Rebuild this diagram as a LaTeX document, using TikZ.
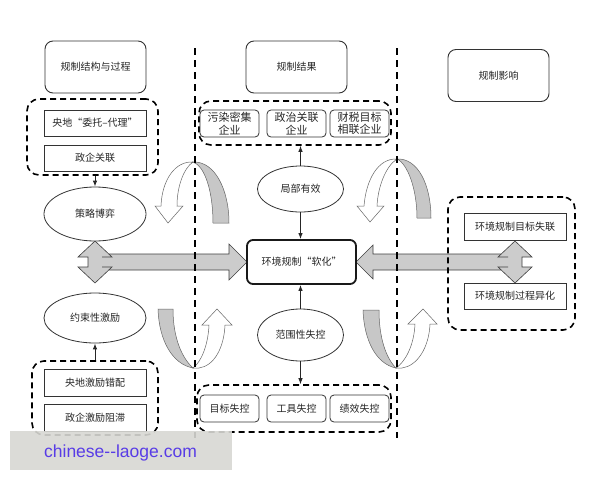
\documentclass[tikz,border=0pt]{standalone}
\usepackage{fontspec}
\setmainfont{Noto Sans CJK SC}
\newfontfamily\wmfont{Liberation Sans}
\usetikzlibrary{arrows.meta,shapes.geometric}
\definecolor{wmgray}{RGB}{216,216,211}
\definecolor{wmtext}{RGB}{88,60,230}
\begin{document}
\begin{tikzpicture}[x=1pt,y=-1pt,
  lbl/.style={font=\fontsize{10}{12}\selectfont, text=black!85},
  hbox/.style={draw=black!80, line width=0.9pt, rounded corners=8pt, minimum width=101pt, minimum height=52pt, lbl},
  pbox/.style={draw=black!80, line width=0.8pt, minimum width=102pt, minimum height=26pt, lbl},
  sbox/.style={draw=black!80, line width=0.8pt, rounded corners=4pt, minimum width=59pt, minimum height=27pt, align=center, inner sep=1pt, text=black!85, font=\fontsize{11}{12.5}\selectfont},
  ell/.style={draw=black!80, line width=0.8pt, ellipse, inner sep=0pt, lbl},
  grp/.style={draw=black, line width=1.6pt, dash pattern=on 6pt off 4pt, rounded corners=12pt},
  vline/.style={draw=black, line width=1.6pt, dash pattern=on 7pt off 5pt},
  fat/.style={fill=black!20, draw=black!75, line width=0.6pt, line join=miter},
  rib/.style={fill=black!22, draw=black!60, line width=0.5pt},
  wrib/.style={fill=white, draw=black!60, line width=0.5pt},
  arr/.style={-{Latex[length=6pt,width=4.5pt]}, line width=0.9pt, draw=black!85}]
\fill[white] (0,0) rectangle (600,480);
\useasboundingbox (0,0) rectangle (600,480);

% ribbons (curved arrows)
% top-left
\path[rib] (193,162) .. controls (215,161) and (229,190) .. (229,223) -- (213,223) .. controls (213,192) and (205,166) .. (193,162) -- cycle;
\path[wrib] (193,162) .. controls (175,161) and (162,180) .. (161,206) -- (155,206) -- (168,223) -- (183,206) -- (177,206) .. controls (177,186) and (184,168) .. (193,162) -- cycle;
% top-right
\path[rib] (397,159) .. controls (418,158) and (431,185) .. (431,218) -- (417,218) .. controls (417,190) and (408,164) .. (397,159) -- cycle;
\path[wrib] (397,159) .. controls (378,158) and (366,180) .. (364,206) -- (357,206) -- (370,222) -- (384,206) -- (377,206) .. controls (378,186) and (386,166) .. (397,159) -- cycle;
% bottom-left
\path[rib] (158,309) .. controls (159,340) and (172,364) .. (193,368) .. controls (182,358) and (173,338) .. (173,309) -- cycle;
\path[wrib] (193,368) -- (199,368) .. controls (214,366) and (224,348) .. (225,325) -- (232,325) -- (217,309) -- (202,325) -- (209,325) .. controls (208,346) and (201,362) .. (193,368) -- cycle;
% bottom-right
\path[rib] (363,310) .. controls (364,340) and (376,364) .. (396,368) .. controls (386,358) and (379,338) .. (379,310) -- cycle;
\path[wrib] (396,368) -- (402,368) .. controls (417,366) and (429,348) .. (430,324) -- (437,324) -- (423,309) -- (408,324) -- (415,324) .. controls (414,346) and (405,362) .. (396,368) -- cycle;

% fat compound arrows
\path[fat] (95,241) -- (108.8,254) -- (229,254) -- (229,244) -- (247,262) -- (229,280) -- (229,270) -- (108.8,270) -- (95,283) -- (78,267) -- (88,267) -- (88,257) -- (78,257) -- cycle;
\draw[black!75, line width=0.6pt] (108.8,254) -- (112,257) -- (102,257) (102,267) -- (112,267) -- (108.8,270);
\path[fat] (515,241) -- (532,257) -- (522,257) -- (522,267) -- (532,267) -- (515,283) -- (501.2,270) -- (373,270) -- (373,279) -- (356,262) -- (373,245) -- (373,254) -- (501.2,254) -- cycle;
\draw[black!75, line width=0.6pt] (501.2,254) -- (498,257) -- (508,257) (508,267) -- (498,267) -- (501.2,270);

% vertical dashed separators
\draw[vline] (195,48) -- (195,438);
\draw[vline] (397,48) -- (397,438);

% headers
\node[hbox] (t1) at (95.5,67) {规制结构与过程};
\node[hbox] (t2) at (296.5,67) {规制结果};
\node[hbox] (t3) at (498.5,75.5) {规制影响};

% left column
\node[grp, minimum width=131pt, minimum height=76pt] (g1) at (92.5,137) {};
\node[pbox] (b1) at (95,123) {央地“委托–代理”};
\node[pbox] (b2) at (95,158) {政企关联};
\node[ell, fill=white, minimum width=102pt, minimum height=54pt] (e1) at (95,214) {策略博弈};
\node[ell, fill=white, minimum width=102pt, minimum height=50pt] (e2) at (95,318) {约束性激励};
\node[grp, minimum width=126pt, minimum height=74pt] (g2) at (95,398) {};
\node[pbox, minimum height=27pt] (b3) at (95,382.5) {央地激励错配};
\node[pbox, minimum height=27pt] (b4) at (95,417.5) {政企激励阻滞};
\draw[arr] (e1.north |- g1.south) -- (e1.north);
\draw[arr] (e2.south |- g2.north) -- (e2.south);

% center column
\node[grp, minimum width=192pt, minimum height=44pt] (g3) at (295,123) {};
\node[sbox] (s1) at (229.5,123.5) {污染密集\\企业};
\node[sbox] (s2) at (296.5,123.5) {政治关联\\企业};
\node[sbox] (s3) at (359.5,123.5) {财税目标\\相联企业};
\node[ell, minimum width=86pt, minimum height=46pt] (e3) at (300.5,189) {局部有效};
\node[draw=black!90, line width=1.8pt, rounded corners=6pt, minimum width=109pt, minimum height=44pt, lbl] (c) at (301.5,262) {环境规制“软化”};
\node[ell, minimum width=86pt, minimum height=52pt] (e4) at (300.5,335) {范围性失控};
\node[grp, minimum width=194pt, minimum height=47pt] (g4) at (294,408.5) {};
\node[sbox, font=\fontsize{10}{12}\selectfont] (s4) at (229.5,408.5) {目标失控};
\node[sbox, font=\fontsize{10}{12}\selectfont] (s5) at (296.5,408.5) {工具失控};
\node[sbox, font=\fontsize{10}{12}\selectfont] (s6) at (359.5,408.5) {绩效失控};
\draw[arr] (e3.north) -- (e3.north |- g3.south);
\draw[arr] (e3.south) -- (e3.south |- c.north);
\draw[arr] (e4.north) -- (e4.north |- c.south);
\draw[arr] (e4.south) -- (e4.south |- g4.north);

% right column
\node[grp, minimum width=127pt, minimum height=133pt] (g5) at (511.5,263.5) {};
\node[pbox, minimum height=27pt] (r1) at (515,226.5) {环境规制目标失联};
\node[pbox] (r2) at (515,296) {环境规制过程异化};

% watermark
\fill[wmgray, fill opacity=0.9] (10,431) rectangle (232,470);
\node[anchor=base, text=wmtext, inner sep=0pt, font=\wmfont\fontsize{17.5}{20}\selectfont] (wm) at (120.5,457) {chinese-{}-laoge.com};
\end{tikzpicture}
\end{document}
